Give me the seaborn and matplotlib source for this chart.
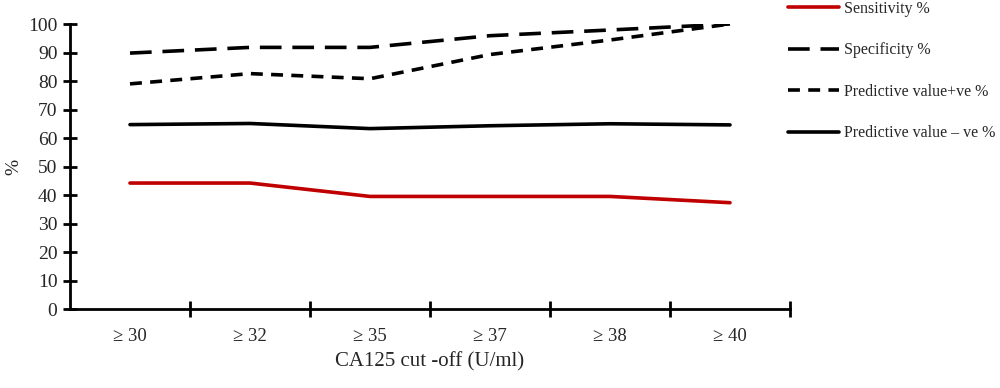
import pandas as pd
import matplotlib.pyplot as plt
import seaborn as sns

# Values
cutoffs = ['≥ 30', '≥ 32', '≥ 35', '≥ 37', '≥ 38', '≥ 40']
sensitivity = [44.2, 44.2, 39.5, 39.5, 39.5, 37.3]
specificity = [89.8, 91.8, 91.8, 95.9, 97.9, 100.0]
ppv = [79.0, 82.6, 80.8, 89.3, 94.4, 100.0]
npv = [64.7, 65.1, 63.3, 64.3, 65.0, 64.6]
series_names = ['Sensitivity %', 'Specificity %', 'Predictive value+ve %', 'Predictive value – ve %']

df = pd.DataFrame({
    'x': list(range(len(cutoffs))) * 4,
    'value': sensitivity + specificity + ppv + npv,
    'series': [s for s in series_names for _ in cutoffs],
})

sns.set_style('white')
plt.rcParams['font.family'] = ['Liberation Serif', 'DejaVu Serif']

fig = plt.figure(figsize=(10, 3.88), dpi=100)
ax = fig.add_axes([0.07, 0.2036, 0.72, 0.7345])

palette = {series_names[0]: '#c00000', series_names[1]: 'black',
           series_names[2]: 'black', series_names[3]: 'black'}
dashes = {series_names[0]: '', series_names[1]: (6, 3),
          series_names[2]: (3.3, 2.3), series_names[3]: ''}
sns.lineplot(data=df, x='x', y='value', hue='series', style='series',
             palette=palette, dashes=dashes, linewidth=2.6, ax=ax,
             hue_order=series_names, style_order=series_names)

ax.set_xlim(-0.5, 5.5)
ax.set_ylim(0, 100)
ax.set_yticks(range(0, 101, 10))
ax.set_xticks(range(len(cutoffs)))
ax.set_xticklabels(cutoffs)
ax.set_xticks([i + 0.5 for i in range(len(cutoffs))], minor=True)
ax.tick_params(axis='both', which='both', left=True, bottom=True)
ax.tick_params(axis='x', which='major', length=0, pad=14, labelsize=13.5)
ax.tick_params(axis='x', which='minor', direction='inout', length=12, width=2, color='black')
ax.tick_params(axis='y', direction='inout', length=10, width=2, labelsize=14, pad=4, color='black')

for side in ['top', 'right']:
    ax.spines[side].set_visible(False)
for side in ['left', 'bottom']:
    ax.spines[side].set_linewidth(2)
    ax.spines[side].set_color('black')

ax.set_xlabel('CA125 cut -off (U/ml)', fontsize=15, labelpad=5)
ax.set_ylabel('%', fontsize=14, labelpad=4)

handles, labels = ax.get_legend_handles_labels()
ax.legend(handles, labels, loc='upper left', bbox_to_anchor=(0.774, 1.035),
          bbox_transform=fig.transFigure, frameon=False, fontsize=11.5,
          handlelength=3.2, handletextpad=0.3, labelspacing=1.6)

fig.savefig('out.png', dpi=100)
